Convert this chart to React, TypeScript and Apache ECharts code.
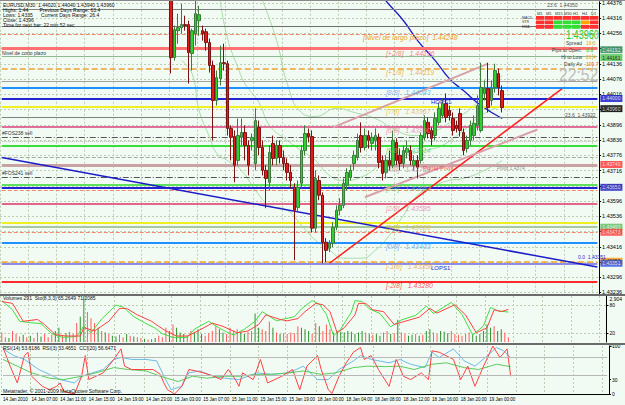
import React, { useEffect, useRef } from "react";
import * as echarts from "echarts";

// ---------- data ----------
const SLOTS = 170;
const CANDLE_START = 48;
const LABEL_EVERY = 8;
const timeLabels = [
  "14 Jan 2010", "14 Jan 07:00", "14 Jan 11:00", "14 Jan 15:00", "14 Jan 19:00", "14 Jan 23:00",
  "15 Jan 03:00", "15 Jan 07:00", "15 Jan 11:00", "15 Jan 15:00", "15 Jan 19:00", "18 Jan 00:00",
  "18 Jan 04:00", "18 Jan 08:00", "18 Jan 12:00", "18 Jan 16:00", "18 Jan 20:00", "19 Jan 00:00",
];
const PRICE_MIN = 1.4323;
const PRICE_MAX = 1.44381;
const priceTicks = [
  1.43236, 1.43296, 1.43356, 1.43416, 1.43476, 1.43536, 1.43596, 1.43656, 1.43716, 1.43776,
  1.43836, 1.43896, 1.43956, 1.44016, 1.44076, 1.44136, 1.44196, 1.44256, 1.44316, 1.44376,
];
// [open, close, low, high]
const candles = [
  [1.44464, 1.44161, 1.44098, 1.44483], [1.44161, 1.44271, 1.44149, 1.44287], [1.44267, 1.44279, 1.44216, 1.44334],
  [1.44279, 1.44291, 1.44255, 1.44373], [1.44291, 1.44287, 1.44267, 1.44326], [1.44291, 1.44181, 1.44059, 1.44306],
  [1.44177, 1.44267, 1.4411, 1.44275], [1.44255, 1.44334, 1.44208, 1.44385], [1.44306, 1.4433, 1.44247, 1.44365],
  [1.44267, 1.44255, 1.44228, 1.44287], [1.44263, 1.4422, 1.44188, 1.44275], [1.4422, 1.4413, 1.44102, 1.44236],
  [1.4413, 1.43992, 1.43835, 1.44149], [1.43992, 1.44082, 1.43972, 1.4411], [1.44078, 1.44141, 1.44051, 1.44208],
  [1.44141, 1.44137, 1.4411, 1.44216], [1.44137, 1.43882, 1.43854, 1.44149], [1.43882, 1.43847, 1.43756, 1.43894],
  [1.4385, 1.43737, 1.4367, 1.43874], [1.43756, 1.43854, 1.43737, 1.43921], [1.43847, 1.43866, 1.43815, 1.43921],
  [1.43866, 1.43815, 1.43756, 1.43894], [1.43815, 1.43737, 1.43697, 1.43835], [1.43835, 1.43847, 1.43795, 1.43862],
  [1.43744, 1.43913, 1.43717, 1.43961], [1.43886, 1.43807, 1.43776, 1.43913], [1.43807, 1.43717, 1.43697, 1.43835],
  [1.43717, 1.43685, 1.43568, 1.43737], [1.4367, 1.43787, 1.43638, 1.43815], [1.43823, 1.43764, 1.43737, 1.43854],
  [1.43764, 1.43815, 1.43737, 1.43835], [1.43815, 1.43768, 1.43744, 1.43835], [1.43768, 1.43744, 1.43717, 1.43795],
  [1.43744, 1.43709, 1.43677, 1.43764], [1.43709, 1.43677, 1.43646, 1.43737], [1.4365, 1.4356, 1.43363, 1.43666],
  [1.43571, 1.4365, 1.43552, 1.43677], [1.43666, 1.43795, 1.43646, 1.43815], [1.43795, 1.43862, 1.43776, 1.43894],
  [1.43862, 1.4385, 1.43827, 1.43882], [1.4385, 1.43489, 1.43473, 1.43874], [1.43489, 1.43685, 1.43473, 1.43717],
  [1.43677, 1.43619, 1.43599, 1.43697], [1.43619, 1.43434, 1.43351, 1.4363], [1.43434, 1.43402, 1.43355, 1.4345],
  [1.4341, 1.4343, 1.43395, 1.43442], [1.4343, 1.43493, 1.43414, 1.43513], [1.43493, 1.4356, 1.43481, 1.43579],
  [1.4356, 1.43579, 1.4354, 1.43607], [1.43579, 1.43666, 1.43568, 1.43685], [1.43658, 1.43709, 1.43638, 1.43725],
  [1.43689, 1.43717, 1.43677, 1.43737], [1.43744, 1.43776, 1.43717, 1.43795], [1.43768, 1.43835, 1.43756, 1.43862],
  [1.43854, 1.43807, 1.43787, 1.43906], [1.43807, 1.43854, 1.43795, 1.43882], [1.43854, 1.43835, 1.43803, 1.43874],
  [1.43823, 1.43847, 1.43795, 1.43866], [1.43835, 1.43854, 1.43795, 1.43882], [1.43847, 1.43748, 1.43725, 1.43862],
  [1.43756, 1.43705, 1.43677, 1.43776], [1.43709, 1.43756, 1.43685, 1.43776], [1.43756, 1.43737, 1.43717, 1.43795],
  [1.43737, 1.43835, 1.43725, 1.43874], [1.43827, 1.43756, 1.43737, 1.43843], [1.43776, 1.43744, 1.43717, 1.43803],
  [1.43744, 1.43795, 1.43725, 1.43815], [1.43787, 1.43803, 1.43764, 1.43835], [1.43795, 1.43756, 1.43737, 1.43815],
  [1.43737, 1.43756, 1.43717, 1.43776], [1.43756, 1.43729, 1.43685, 1.43776], [1.43756, 1.43854, 1.43744, 1.43866],
  [1.43847, 1.43913, 1.43835, 1.43933], [1.43906, 1.43862, 1.43843, 1.43925], [1.43874, 1.43843, 1.43815, 1.43886],
  [1.43854, 1.43921, 1.43835, 1.43945], [1.43906, 1.43961, 1.43894, 1.43984], [1.43933, 1.4398, 1.43921, 1.44],
  [1.4398, 1.43925, 1.43906, 1.4402], [1.43953, 1.43933, 1.43913, 1.43972], [1.43921, 1.43874, 1.43854, 1.43945],
  [1.43894, 1.43882, 1.43866, 1.43913], [1.43941, 1.43874, 1.4385, 1.43961], [1.43866, 1.43795, 1.43776, 1.43882],
  [1.43803, 1.43835, 1.43787, 1.43854], [1.43835, 1.43894, 1.43815, 1.43913], [1.43854, 1.43902, 1.43835, 1.43933],
  [1.43894, 1.43972, 1.43874, 1.44012], [1.43874, 1.44043, 1.43866, 1.44141], [1.4402, 1.44039, 1.43992, 1.44071],
  [1.44039, 1.43964, 1.43945, 1.44141], [1.43992, 1.44039, 1.43972, 1.44071], [1.44043, 1.4411, 1.44023, 1.44137],
  [1.44098, 1.44043, 1.44012, 1.44118], [1.44031, 1.43964, 1.43945, 1.44051],
];
const volumes = [
  600, 300, 250, 700, 500, 350, 450, 300, 400, 250, 600, 350, 500, 300, 450, 700,
  900, 400, 550, 650, 500, 1200, 1600, 2904, 1900, 1500, 1200, 900, 700, 600, 500, 400,
  350, 450, 300, 500, 400, 350, 300, 250, 200, 150, 180, 250, 400, 300, 900, 700,
  1100, 900, 600, 500, 400, 700, 650, 800, 500, 400, 550, 700, 1000, 800, 600, 500,
  900, 700, 800, 600, 500, 650, 700, 1800, 900, 800, 700, 1300, 900, 600, 500, 550,
  500, 600, 550, 1000, 900, 800, 700, 500, 1200, 1000, 700, 1100, 800, 600, 700, 650,
  600, 700, 650, 500, 600, 700, 600, 500, 450, 500, 400, 600, 700, 500, 550, 1400,
  600, 500, 400, 450, 500, 400, 450, 700, 800, 600, 500, 700, 650, 550, 700, 500,
  450, 400, 500, 600, 450, 400, 500, 700, 1100, 900, 1000, 700, 800, 600, 300,
];
const earlyVolumeDir = "ddudddudud" + "duddduudud" + "dduudddudu" + "duuddududd" + "uduudddu";

const murreyNames = ["[-2/8]", "[-1/8]", "[0/8]", "[1/8]", "[2/8]", "[3/8]", "[4/8]", "[5/8]", "[6/8]", "[7/8]", "[8/8]", "[+1/8]", "[+2/8]"];
const murreyLevels = [1.4328, 1.43356, 1.43433, 1.43509, 1.43585, 1.43662, 1.43738, 1.43814, 1.4389, 1.43967, 1.44043, 1.44119, 1.44196];
const extraLevels = [1.4435, 1.44283, 1.44251, 1.44165, 1.44067, 1.44, 1.43925, 1.43847, 1.43831, 1.43768, 1.43689, 1.4365, 1.43638, 1.43493, 1.43473, 1.43348];
const tagLevels = [1.44192, 1.44161, 1.44, 1.4396, 1.4374, 1.4365, 1.43493, 1.43473, 1.43359, 1.43351];

// trend lines: [startIndex, startPrice, endIndex, endPrice]
const trendBlue = [0, 1.43768, 169, 1.43336];
const trendRed = [93, 1.43351, 159, 1.44039];
const channelUpper = [94, 1.43886, 138, 1.44137];
const channelLower = [103, 1.43611, 152, 1.43878];
const dottedFall = [39, 1.44385, 88, 1.43351];

const maBlue = [[107, 1.44424], [109, 1.44385], [114, 1.44306], [118, 1.44228], [123, 1.44149], [127, 1.44078], [131, 1.44031], [136, 1.43972], [142, 1.43921]];
const bandUpper = [[74, 1.44385], [78, 1.44228], [81, 1.44059], [85, 1.43945], [89, 1.43929], [95, 1.43961], [100, 1.43945], [106, 1.43921], [111, 1.43882], [117, 1.43854], [122, 1.43866], [128, 1.43913], [134, 1.43972], [139, 1.44051], [142, 1.4409]];
const bandMid = [[62, 1.44385], [64, 1.4424], [67, 1.44122], [69, 1.44059], [73, 1.43984], [76, 1.43894], [81, 1.43835], [85, 1.43795], [89, 1.43756], [93, 1.43697], [97, 1.43677], [103, 1.43697], [109, 1.43756], [114, 1.43776], [120, 1.43795], [125, 1.43815], [131, 1.43874], [136, 1.43933], [142, 1.43972]];
const bandLower = [[51, 1.44149], [54, 1.44098], [56, 1.43953], [59, 1.43847], [61, 1.43784], [64, 1.43756], [68, 1.43717], [72, 1.43638], [76, 1.43579], [81, 1.4356], [85, 1.43501], [89, 1.43442], [93, 1.43402], [97, 1.43371], [102, 1.43371], [106, 1.43402], [110, 1.43461], [114, 1.4354], [118, 1.43619], [123, 1.43658], [127, 1.43677], [131, 1.43685], [137, 1.43717], [142, 1.43756]];

const stochK = [[0, 90], [3, 70], [5, 45], [8, 42], [11, 40], [14, 18], [17, 10], [21, 12], [23, 35], [25, 20], [28, 50], [32, 80], [34, 76], [37, 55], [40, 42], [43, 30], [45, 18], [48, 10], [52, 10], [54, 28], [58, 45], [61, 30], [63, 22], [65, 15], [68, 28], [71, 45], [73, 66], [77, 46], [79, 50], [82, 55], [84, 72], [87, 90], [89, 82], [91, 60], [93, 14], [95, 28], [98, 65], [99, 90], [101, 88], [103, 72], [106, 62], [109, 33], [112, 48], [116, 58], [119, 78], [121, 62], [126, 86], [129, 60], [132, 15], [135, 35], [137, 75], [139, 68], [142, 65]];
const stochD = [[0, 88], [3, 84], [6, 45], [10, 49], [12, 38], [15, 16], [18, 13], [22, 13], [23, 31], [26, 24], [30, 45], [33, 73], [35, 73], [38, 59], [42, 45], [44, 34], [46, 24], [49, 13], [52, 13], [55, 24], [59, 41], [62, 34], [64, 27], [66, 20], [69, 24], [72, 38], [74, 59], [78, 49], [80, 46], [83, 51], [85, 66], [88, 84], [90, 81], [92, 66], [94, 20], [96, 31], [99, 59], [100, 84], [102, 84], [104, 70], [107, 66], [110, 38], [113, 45], [117, 54], [120, 73], [122, 63], [127, 81], [130, 59], [133, 20], [136, 31], [138, 70], [140, 66], [142, 71]];

const rsiFast = [[0, 97], [2, 58], [4, 23], [6, 80], [7, 87], [8, 37], [11, 16], [13, 9], [15, 16], [16, 23], [17, 5], [20, 0], [22, 37], [23, 80], [24, 30], [26, 37], [28, 44], [31, 72], [33, 94], [34, 58], [36, 51], [39, 51], [42, 51], [44, 41], [45, 23], [46, 9], [48, 0], [50, 16], [52, 51], [54, 48], [56, 44], [59, 37], [61, 30], [63, 51], [65, 30], [66, 16], [67, 44], [70, 30], [72, 72], [74, 23], [78, 37], [81, 51], [83, 9], [85, 58], [88, 80], [89, 51], [91, 9], [92, 1], [94, 37], [96, 65], [98, 87], [100, 97], [101, 72], [103, 80], [105, 51], [108, 16], [110, 72], [112, 37], [114, 30], [117, 44], [119, 30], [120, 90], [122, 87], [126, 72], [128, 30], [130, 58], [132, 16], [134, 51], [137, 100], [139, 76], [141, 94], [142, 37]];
const rsiSlowBlue = [[0, 94], [3, 80], [6, 72], [10, 51], [13, 41], [16, 30], [20, 23], [22, 37], [25, 44], [28, 51], [31, 72], [33, 76], [36, 72], [40, 72], [43, 69], [45, 37], [47, 9], [50, 16], [52, 44], [55, 48], [59, 37], [62, 33], [66, 30], [71, 44], [75, 41], [80, 44], [84, 58], [88, 30], [91, 30], [94, 51], [98, 69], [100, 80], [103, 72], [108, 65], [111, 72], [114, 62], [118, 55], [120, 87], [122, 76], [126, 94], [129, 69], [132, 58], [136, 83], [138, 97], [140, 90], [142, 76]];
const rsiSlowGreen = [[0, 72], [4, 58], [8, 44], [13, 33], [17, 30], [22, 37], [26, 44], [31, 55], [35, 51], [40, 48], [44, 37], [49, 26], [53, 37], [57, 33], [62, 37], [66, 37], [71, 41], [75, 41], [80, 44], [84, 48], [89, 41], [93, 44], [98, 55], [102, 58], [107, 57], [111, 58], [115, 51], [120, 62], [124, 65], [129, 55], [133, 51], [138, 62], [142, 57]];
const rsiLevels = [77, 39];

const tfHeaders = ["M1", "M5", "M15", "M30", "H1", "H4", "D1"];
const tfRows = ["MACD", "STR", "EMA"];
const tfSignals = ["ddddddd", "dduuuod", "dduuudd"];

// ---------- option ----------
const FONT = "Liberation Sans, Arial, sans-serif";
const GRID_COLOR = "#bfcdb3";

function buildOption() {
  const categories = Array.from({ length: SLOTS }, (_, i) => String(i));
  const LAST = SLOTS - 1;

  const murreyStyle: any[] = [
    ["#ff2a2a", 2, "solid"], ["#f5a623", 1.5, "dashed"], ["#1e90ff", 2, "solid"], ["#eeee22", 2, "solid"],
    ["#e0668c", 2, "solid"], ["#5ee05e", 2, "solid"], ["#c9a3a3", 3, "solid"], ["#3ddc3d", 2, "solid"],
    ["#e0709a", 2, "solid"], ["#eeee22", 2, "solid"], ["#1e90ff", 2, "solid"], ["#f0a030", 1.5, "dashed"],
    ["#ff7070", 3, "solid"],
  ];
  const murreyText = ["#ff3030", "#f0a030", "#5aa8f0", "#e0c020", "#e87fa0", "#70d070", "#c09090", "#60d060", "#e87fa0", "#e8b830", "#5aa8f0", "#f0a030", "#ff6060"];
  const dashDot = [6, 2, 1, 2];
  const extraStyle: any[] = [
    ["#808080", 1, "solid"], ["#6e6e6e", 1, "solid"], ["#f08a6a", 1, "dashed"], ["#8fbc8f", 1, "solid"],
    ["#a0a0a0", 1, "solid"], ["#2424d0", 2, "solid"], ["#808080", 1, "solid"], ["#555555", 1, dashDot],
    ["#b8b8b8", 1, "dotted"], ["#a8a8a8", 1, "dashed"], ["#555555", 1, dashDot], ["#2424d0", 2, "solid"],
    ["#f08a6a", 1, "dashed"], ["#a8c8a0", 2, "solid"], ["#f08a6a", 1, "dashed"], ["#8c8ce6", 2, "solid"],
  ];
  const tagStyle = [
    ["#2e8b57", "#fff"], ["#4fc04f", "#000"], ["#1414c8", "#fff"], ["#000000", "#fff"], ["#ff3030", "#fff"],
    ["#2020c0", "#fff"], ["#5cbc5c", "#fff"], ["#ff4040", "#fff"], ["#ff9900", "#000"], ["#3050e0", "#fff"],
  ];

  const hseg = (v: number, st: any[]) => [
    { coord: [0, v], lineStyle: { color: st[0], width: st[1], type: st[2] } },
    { coord: [LAST, v] },
  ];
  const seg = (a: number[], color: string, width: number, type: any = "solid") => [
    { coord: [a[0], a[1]], lineStyle: { color, width, type } },
    { coord: [a[2], a[3]] },
  ];

  const hLines = [
    ...murreyLevels.map((v, i) => hseg(v, murreyStyle[i])),
    ...extraLevels.map((v, i) => hseg(v, extraStyle[i])),
  ];

  const volData = volumes.map((v, i) => {
    let up: boolean;
    if (i < CANDLE_START) up = earlyVolumeDir[i] === "u";
    else {
      const c = candles[i - CANDLE_START];
      up = c ? c[1] >= c[0] : false;
    }
    return { value: [i, v], itemStyle: { color: up ? "#2f8f2f" : "#ff5a5a" } };
  });

  const texts: any[] = [];
  const addText = (x: number, y: number, text: string, fill: string, fontSize: number, extra: any = {}, scaleX = 1) =>
    texts.push({
      type: "text", x, y, silent: true, z: 50, scaleX,
      style: { text, fill, fontSize, fontFamily: FONT, align: "left", verticalAlign: "middle", ...extra },
    });

  addText(3, 5, "EURUSD,M30  1.44020 1.44040 1.43940 1.43960", "#111", 5);
  addText(3, 10, "Highs: 1.44        Previous Days Range: 63.4", "#111", 5);
  addText(3, 15, "Lows: 1.4335      Current Days Range: 26.4", "#111", 5);
  addText(3, 20, "Close: 1.4396", "#111", 5);
  addText(3, 25, "Time for next bar: 22 min 52 sec", "#111", 5);
  addText(2, 53, "Nivel de corto plazo", "#333", 5);
  addText(2, 133, "#FOS238 sell", "#333", 5);
  addText(2, 173, "#FOS241 sell", "#333", 5);
  addText(363, 37, "[Nivel de largo plazo]  1.44248", "#f0a030", 7, { fontStyle: "italic" });
  addText(431, 102, "HOPS1", "#2424d0", 6);
  addText(431, 268, "LOPS1", "#2424d0", 6);
  addText(423, 168, "Punto Pivot", "#ff4040", 6);
  addText(497, 168, "Pivot 1.4374", "#909090", 5);
  addText(547, 5, "23.6  1.44350", "#555", 5);
  addText(565, 115, "23.6  1.43922", "#555", 5);
  addText(578, 257, "0.0  1.43351", "#2424d0", 5);
  addText(3, 298, "Volumes 291  Sto(8,3,3) 65.2649 71.2085", "#111", 5);
  addText(3, 348, "RSI(14) 53.6186  RSI(3) 33.4651  CCI(20) 56.6471", "#111", 5);
  addText(3, 391, "Metatrader, © 2001-2009 MetaQuotes Software Corp.", "#111", 5);
  addText(566, 34, "1.43960", "#2ecc2e", 12, {}, 0.76);
  addText(559, 75, "22:52", "#bdbdbd", 18, {}, 0.87);

  const infoRows = [["Spread", "18.0", "#ff9a1a"], ["Pips to Open.", "6.0", "#22bb22"], ["Hi to Low", "26.4", "#ff9a1a"], ["Daily Av", "100.7", "#ff5a1a"]];
  infoRows.forEach((r, i) => {
    addText(582, 43 + i * 7, r[0], "#444", 5, { align: "right" });
    addText(586, 43 + i * 7, r[1], r[2], 5);
  });

  tfHeaders.forEach((h, j) => addText(537 + j * 9, 13, h, "#333", 4));
  const sigColor: any = { d: "#ff3030", u: "#33dd33", o: "#ffa500" };
  tfRows.forEach((r, i) => {
    addText(522, 17.5 + i * 4.5, r, "#333", 3.5);
    for (let j = 0; j < tfSignals[i].length; j++) {
      texts.push({
        type: "rect", silent: true, z: 49,
        shape: { x: 536 + j * 9, y: 16 + i * 4.5, width: 8.5, height: 3.8 },
        style: { fill: sigColor[tfSignals[i][j]] },
      });
    }
  });

  texts.push({ type: "rect", silent: true, z: 48, shape: { x: 0, y: 294, width: 625, height: 2 }, style: { fill: "#6b6b6b" } });
  texts.push({ type: "rect", silent: true, z: 48, shape: { x: 0, y: 343, width: 625, height: 2 }, style: { fill: "#6b6b6b" } });
  texts.push({ type: "rect", silent: true, z: 48, shape: { x: 0, y: 0, width: 625, height: 1 }, style: { fill: "#8a8a8a" } });

  const xAxisFor = (g: number) => ({
    type: "category",
    gridIndex: g,
    data: categories,
    boundaryGap: true,
    axisLine: { show: g === 2, lineStyle: { color: "#000" } },
    axisTick: { show: false },
    axisLabel:
      g === 2
        ? {
            show: true,
            interval: (i: number) => i % LABEL_EVERY === 0 && i / LABEL_EVERY < timeLabels.length,
            formatter: (_v: string, i: number) => timeLabels[i / LABEL_EVERY] ?? "",
            fontSize: 4.5,
            color: "#000",
            align: "left",
            margin: 3,
            fontFamily: FONT,
          }
        : { show: false },
    splitLine: { show: true, interval: (i: number) => i % LABEL_EVERY === 0, lineStyle: { color: GRID_COLOR, type: [2, 2], width: 1 } },
  });

  const lineSeries = (name: string, data: any[], color: string, xi: number, yi: number, width = 1, smooth = false) => ({
    name, type: "line", xAxisIndex: xi, yAxisIndex: yi, data, showSymbol: false, symbol: "none",
    smooth, lineStyle: { color, width }, z: 3, silent: true,
  });

  return {
    animation: false,
    backgroundColor: "#f1fbf4",
    textStyle: { fontFamily: FONT },
    grid: [
      { left: 0, top: 1, width: 609, height: 293 },
      { left: 0, top: 296, width: 609, height: 46 },
      { left: 0, top: 346, width: 609, height: 48 },
    ],
    xAxis: [xAxisFor(0), xAxisFor(1), xAxisFor(2)],
    yAxis: [
      {
        type: "value", gridIndex: 0, position: "right", min: PRICE_MIN, max: PRICE_MAX,
        axisLine: { show: true, lineStyle: { color: "#000" } },
        axisTick: { show: true, length: 2, customValues: priceTicks, lineStyle: { color: "#000" } },
        axisLabel: { show: true, customValues: priceTicks, formatter: (v: number) => v.toFixed(5), fontSize: 5.5, color: "#000", margin: 3 },
        splitLine: { show: true, lineStyle: { color: GRID_COLOR, type: [2, 2] } },
      },
      {
        type: "value", gridIndex: 1, position: "right", min: 0, max: 100,
        axisLine: { show: true, lineStyle: { color: "#000" } },
        axisTick: { show: true, length: 2, customValues: [20, 80] },
        axisLabel: { show: true, customValues: [20, 80], fontSize: 5, color: "#000", margin: 3 },
        splitLine: { show: true, lineStyle: { color: GRID_COLOR, type: [2, 2] } },
      },
      {
        type: "value", gridIndex: 1, position: "right", min: 0, max: 2904,
        axisLine: { show: false }, axisTick: { show: false },
        axisLabel: { show: true, customValues: [0, 2904], fontSize: 5, color: "#000", margin: 3, verticalAlign: "top" },
        splitLine: { show: false },
      },
      {
        type: "value", gridIndex: 2, position: "right", min: 0, max: 100,
        axisLine: { show: true, lineStyle: { color: "#000" } },
        axisTick: { show: true, length: 2, customValues: [0, 30, 100] },
        axisLabel: { show: true, customValues: [0, 30, 100], fontSize: 5, color: "#000", margin: 3 },
        splitLine: { show: false },
      },
    ],
    graphic: texts,
    series: [
      {
        name: "levels", type: "line", xAxisIndex: 0, yAxisIndex: 0, data: [], z: 1, silent: true,
        markLine: { silent: true, symbol: "none", label: { show: false }, data: hLines },
      },
      {
        name: "trend", type: "line", xAxisIndex: 0, yAxisIndex: 0, data: [], z: 4, silent: true,
        markLine: {
          silent: true, symbol: "none", label: { show: false },
          data: [
            seg(trendBlue, "#1c1cc8", 1.5),
            seg(trendRed, "#ff2020", 1.5),
            seg(channelUpper, "#d9a0a8", 2),
            seg(channelLower, "#d9a0a8", 2),
            seg(dottedFall, "#f09070", 1, "dotted"),
          ],
        },
      },
      lineSeries("bandUpper", bandUpper, "#a6dca6", 0, 0, 1, true),
      lineSeries("bandMid", bandMid, "#a6dca6", 0, 0, 1, true),
      lineSeries("bandLower", bandLower, "#a6dca6", 0, 0, 1, true),
      lineSeries("maBlue", maBlue, "#1c1cc8", 0, 0, 1.3, true),
      {
        name: "EURUSD", type: "candlestick", xAxisIndex: 0, yAxisIndex: 0, z: 5, silent: true,
        data: candles.map((c, i) => [CANDLE_START + i, c[0], c[1], c[2], c[3]]),
        encode: { x: 0, y: [1, 2, 3, 4] },
        barWidth: 3,
        itemStyle: { color: "#2fd12f", color0: "#e41b1b", borderColor: "#3d7a3d", borderColor0: "#7a1414", borderWidth: 1 },
      },
      {
        name: "murreyLabels", type: "scatter", xAxisIndex: 0, yAxisIndex: 0, symbolSize: 0, z: 6, silent: true,
        data: murreyLevels.map((v, i) => ({
          value: [109, v],
          label: {
            show: true, position: [0, 0], align: "left", verticalAlign: "top", offset: [0, 1],
            formatter: `${murreyNames[i]}   ${v.toFixed(5)}`,
            color: murreyText[i], fontSize: 7, fontStyle: "italic", fontFamily: FONT,
          },
        })),
      },
      {
        name: "tags", type: "scatter", xAxisIndex: 0, yAxisIndex: 0, symbolSize: 0, z: 10, silent: true, clip: false,
        data: tagLevels.map((v, i) => ({
          value: [LAST, v],
          label: {
            show: true, position: "right", distance: 3, formatter: v.toFixed(5),
            backgroundColor: tagStyle[i][0], color: tagStyle[i][1], fontSize: 5, padding: [1, 2], fontFamily: FONT,
          },
        })),
      },
      {
        name: "Volumes", type: "bar", xAxisIndex: 1, yAxisIndex: 2, data: volData, barWidth: 1, z: 2, silent: true,
      },
      lineSeries("StochK", stochK, "#3fe03f", 1, 1, 1),
      lineSeries("StochD", stochD, "#ff4040", 1, 1, 1),
      {
        name: "rsiLevels", type: "line", xAxisIndex: 2, yAxisIndex: 3, data: [], z: 1, silent: true,
        markLine: {
          silent: true, symbol: "none", label: { show: false },
          data: rsiLevels.map((v) => [
            { coord: [0, v], lineStyle: { color: "#b8b8b8", width: 1, type: "solid" } },
            { coord: [LAST, v] },
          ]),
        },
      },
      lineSeries("RSI14", rsiSlowBlue, "#6cbbe8", 2, 3, 1),
      lineSeries("CCI", rsiSlowGreen, "#5ccc5c", 2, 3, 1),
      lineSeries("RSI3", rsiFast, "#ff4040", 2, 3, 1),
    ],
  };
}

export default function App() {
  const ref = useRef<HTMLDivElement>(null);
  useEffect(() => {
    document.body.style.margin = "0";
    const chart = echarts.init(ref.current!, null, { renderer: "svg" });
    chart.setOption(buildOption() as any);
    return () => chart.dispose();
  }, []);
  return <div ref={ref} style={{ width: 625, height: 405 }} />;
}
